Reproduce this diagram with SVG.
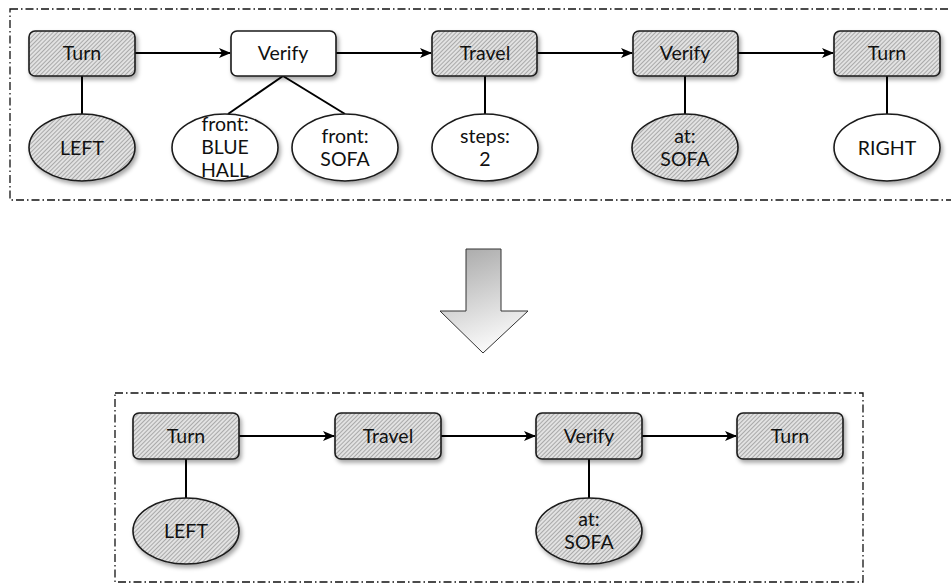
<svg xmlns="http://www.w3.org/2000/svg" width="951" height="584" viewBox="0 0 951 584">
<style>
.frame{fill:none;stroke:#111;stroke-width:1.3;stroke-dasharray:8 3 1.5 3}
.box{stroke:#1a1a1a;stroke-width:1.6;filter:url(#sh)}
.hat{fill:url(#hatch)}
.wht{fill:#fff}
.lbl{font-family:Lato,"Open Sans",sans-serif;font-size:19.5px;fill:#111;text-anchor:middle}
.edge{stroke:#000;stroke-width:2;fill:none}
.arr{marker-end:url(#ah)}
</style>
<defs>
<pattern id="hatch" width="3" height="3" patternUnits="userSpaceOnUse" patternTransform="rotate(45)">
<rect width="3" height="3" fill="#e2e2e2"/>
<line x1="0" y1="0" x2="0" y2="3" stroke="#7a7a7a" stroke-width="1.1"/>
</pattern>
<filter id="sh" x="-20%" y="-20%" width="150%" height="160%">
<feDropShadow dx="2" dy="3" stdDeviation="2" flood-color="#000" flood-opacity="0.35"/>
</filter>
<marker id="ah" markerWidth="12" markerHeight="10" refX="11" refY="5" orient="auto" markerUnits="userSpaceOnUse">
<path d="M0,0 L12,5 L0,10 L3,5 Z" fill="#000"/>
</marker>
<linearGradient id="ag" x1="0" y1="0" x2="0.3" y2="1">
<stop offset="0" stop-color="#a6a6a6"/>
<stop offset="1" stop-color="#f7f7f7"/>
</linearGradient>
</defs>

<rect class="frame" x="10" y="9" width="950" height="191"/>
<rect class="frame" x="115" y="393" width="748" height="189"/>

<g id="connectors">
<line class="edge arr" x1="135" y1="53" x2="230" y2="53"/>
<line class="edge arr" x1="336" y1="53" x2="431" y2="53"/>
<line class="edge arr" x1="537" y1="53" x2="632" y2="53"/>
<line class="edge arr" x1="738" y1="53" x2="833" y2="53"/>
<line class="edge" x1="82" y1="76" x2="82" y2="114"/>
<line class="edge" x1="283" y1="76" x2="228" y2="114"/>
<line class="edge" x1="283" y1="76" x2="345" y2="114"/>
<line class="edge" x1="485" y1="76" x2="485" y2="114"/>
<line class="edge" x1="685" y1="76" x2="685" y2="114"/>
<line class="edge" x1="887" y1="76" x2="887" y2="114"/>
<line class="edge arr" x1="239" y1="436" x2="334" y2="436"/>
<line class="edge arr" x1="441" y1="436" x2="535" y2="436"/>
<line class="edge arr" x1="642" y1="436" x2="736" y2="436"/>
<line class="edge" x1="186" y1="459" x2="186" y2="498"/>
<line class="edge" x1="589" y1="459" x2="589" y2="498"/>
</g>

<g id="t_turn1"><rect class="box hat" x="29" y="31" width="106" height="45" rx="6"/><text class="lbl" x="82" y="60">Turn</text></g>
<g id="t_verify1"><rect class="box wht" x="231" y="31" width="105" height="45" rx="6"/><text class="lbl" x="283" y="60">Verify</text></g>
<g id="t_travel"><rect class="box hat" x="432" y="31" width="105" height="45" rx="6"/><text class="lbl" x="485" y="60">Travel</text></g>
<g id="t_verify2"><rect class="box hat" x="633" y="31" width="105" height="45" rx="6"/><text class="lbl" x="685" y="60">Verify</text></g>
<g id="t_turn2"><rect class="box hat" x="834" y="31" width="106" height="45" rx="6"/><text class="lbl" x="887" y="60">Turn</text></g>

<g id="t_left"><ellipse class="box hat" cx="82" cy="147.5" rx="53" ry="33.5"/><text class="lbl" x="82" y="155">LEFT</text></g>
<g id="t_bluehall"><ellipse class="box wht" cx="225" cy="147.5" rx="53" ry="33.5"/><text class="lbl" x="225" y="131">front:</text><text class="lbl" x="225" y="154">BLUE</text><text class="lbl" x="225" y="177">HALL</text></g>
<g id="t_sofa"><ellipse class="box wht" cx="345" cy="147.5" rx="53" ry="33.5"/><text class="lbl" x="345" y="143">front:</text><text class="lbl" x="345" y="166">SOFA</text></g>
<g id="t_steps"><ellipse class="box wht" cx="485" cy="147.5" rx="53" ry="33.5"/><text class="lbl" x="485" y="143">steps:</text><text class="lbl" x="485" y="166">2</text></g>
<g id="t_atsofa"><ellipse class="box hat" cx="685" cy="147.5" rx="53" ry="33.5"/><text class="lbl" x="685" y="143">at:</text><text class="lbl" x="685" y="166">SOFA</text></g>
<g id="t_right"><ellipse class="box wht" cx="887" cy="147.5" rx="53" ry="33.5"/><text class="lbl" x="887" y="155">RIGHT</text></g>

<g id="down_arrow"><path d="M466,249 H501 V311 H528 L483,353 L440,311 H466 Z" fill="url(#ag)" stroke="#333" stroke-width="1"/></g>

<g id="b_turn1"><rect class="box hat" x="133" y="413" width="106" height="46" rx="6"/><text class="lbl" x="186" y="443">Turn</text></g>
<g id="b_travel"><rect class="box hat" x="335" y="413" width="106" height="46" rx="6"/><text class="lbl" x="388" y="443">Travel</text></g>
<g id="b_verify"><rect class="box hat" x="536" y="413" width="106" height="46" rx="6"/><text class="lbl" x="589" y="443">Verify</text></g>
<g id="b_turn2"><rect class="box hat" x="737" y="413" width="106" height="46" rx="6"/><text class="lbl" x="790" y="443">Turn</text></g>
<g id="b_left"><ellipse class="box hat" cx="186" cy="531" rx="53" ry="33"/><text class="lbl" x="186" y="538">LEFT</text></g>
<g id="b_atsofa"><ellipse class="box hat" cx="589" cy="531" rx="53" ry="33"/><text class="lbl" x="589" y="526">at:</text><text class="lbl" x="589" y="549">SOFA</text></g>
</svg>
